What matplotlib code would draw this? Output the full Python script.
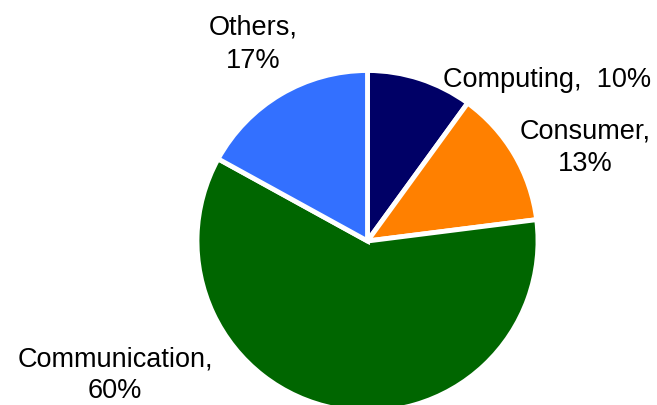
import matplotlib
matplotlib.use("Agg")
import matplotlib.pyplot as plt

# market share by segment
segments = ["Computing", "Consumer", "Communication", "Others"]
shares = [10, 13, 60, 17]
colors = ["#000066", "#FF8000", "#006600", "#3370FF"]

plt.rcParams['font.family'] = ['Liberation Sans', 'DejaVu Sans']

W, H = 657, 405
fig = plt.figure(figsize=(W / 100, H / 100), dpi=100)
ax = fig.add_axes([0, 0, 1, 1])

ax.pie(shares, colors=colors, startangle=90, counterclock=False,
       center=(367.5, H - 241), radius=170.5, frame=True,
       wedgeprops=dict(edgecolor='white', linewidth=3.5))
ax.set_xlim(0, W)
ax.set_ylim(0, H)
ax.set_aspect('equal')
ax.axis('off')

# label text: baseline y of first line in pixels from top, then line gap
fs = 19.5
def label(x, lines, y0, gap=33):
    for i, s in enumerate(lines):
        ax.text(x, H - (y0 + gap * i), s, ha='center', va='baseline',
                fontsize=fs, color='black')

label(547, ["%s,  %d%%" % (segments[0], shares[0])], 87)
label(585, ["%s," % segments[1], "%d%%" % shares[1]], 138)
label(115, ["%s," % segments[2], "%d%%" % shares[2]], 367, gap=31)
label(253, ["%s," % segments[3], "%d%%" % shares[3]], 35)

fig.savefig("out.png", dpi=100)
